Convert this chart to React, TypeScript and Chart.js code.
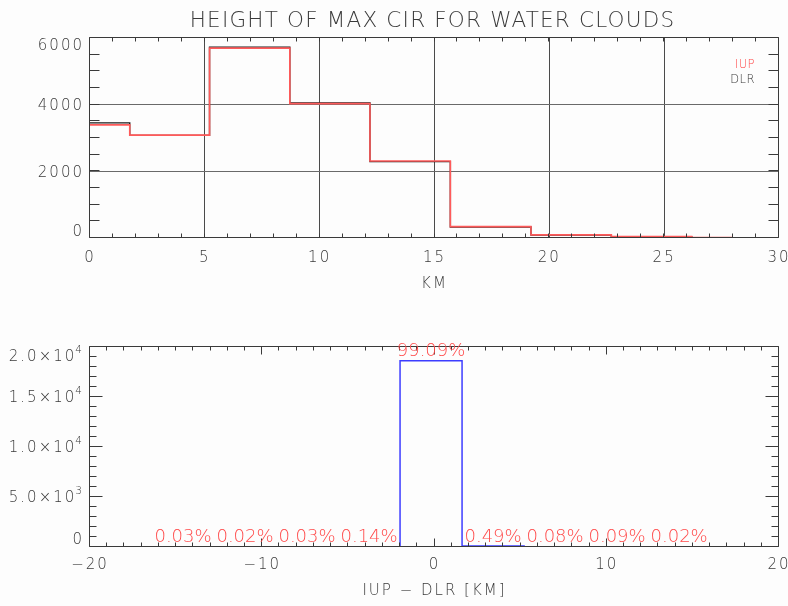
import React, { useEffect, useRef } from "react";
import Chart from "chart.js/auto";

// ---- data ----------------------------------------------------------------

// Height of the maximum CIR, counts per 3.5 km bin (plotted at bin centres)
const heightBinCentersKm = [0, 3.46, 6.95, 10.45, 13.93, 17.45, 20.95, 24.45, 27.95];
const iupCounts = [3395, 3085, 5695, 4030, 2310, 340, 95, 40, 15];
const dlrCounts = [3455, 3080, 5725, 4050, 2290, 330, 85, 40, 0];

const heightXTicks = [0, 5, 10, 15, 20, 25, 30];
const heightYTicks = [0, 2000, 4000, 6000];
const heightYTickLabels = ["0", "2000", "4000", "6000"];

// IUP - DLR height differences, share of all cases per bin
const diffBinCentersKm = [-14.6, -11.0, -7.4, -3.8, -0.2, 3.4, 7.0, 10.6, 14.2, 17.8];
const diffPercents = [0.03, 0.02, 0.03, 0.14, 99.09, 0.49, 0.08, 0.09, 0.02, 0.0];
const diffTotalCount = 18800;

const diffXTicks = [-20, -10, 0, 10, 20];
const diffYTicks = [0, 5000, 10000, 15000, 20000];
const diffYTickLabels = ["0", "5.0×10^3", "1.0×10^4", "1.5×10^4", "2.0×10^4"];

// ---- styling -------------------------------------------------------------

const FAMILY = "'DejaVu Sans', 'Liberation Sans', sans-serif";
const WEIGHT = "200";
const INK = "#3a3a3a";
const IUP_RED = "#ff5a5a";
const LABEL_RED = "#ff4a4a";
const DLR_BLACK = "#1c1c1c";
const DIFF_BLUE = "#3d3dff";
const TICK_SIZE = 15;
const TICK_SPACING = 2;

type TickSpec = { minor: number; major: number; minorLen: number; majorLen: number };

const crisp = (v: number) => Math.round(v) + 0.5;

// Box around the plot area plus inward minor/major tick marks on all four sides
function framePlugin(id: string, xs: TickSpec, ys: TickSpec) {
  return {
    id,
    afterDatasetsDraw(chart: any) {
      const { ctx, chartArea: a, scales } = chart;
      const x = scales.x;
      const y = scales.y;
      ctx.save();
      ctx.letterSpacing = "0px";
      ctx.strokeStyle = INK;
      ctx.lineWidth = 1;
      const L = crisp(a.left) - 1;
      const R = crisp(a.right) - 1;
      const T = crisp(a.top) - 1;
      const B = crisp(a.bottom) - 1;
      ctx.beginPath();
      ctx.rect(L, T, R - L, B - T);
      const nx = Math.round((x.max - x.min) / xs.minor);
      for (let i = 0; i <= nx; i++) {
        const v = x.min + i * xs.minor;
        const r = v / xs.major;
        const len = Math.abs(r - Math.round(r)) < 1e-6 ? xs.majorLen : xs.minorLen;
        const px = crisp(x.getPixelForValue(v)) - 1;
        ctx.moveTo(px, B);
        ctx.lineTo(px, B - len);
        ctx.moveTo(px, T);
        ctx.lineTo(px, T + len);
      }
      const ny = Math.round((y.max - y.min) / ys.minor);
      for (let i = 0; i <= ny; i++) {
        const v = y.min + i * ys.minor;
        const r = v / ys.major;
        const len = Math.abs(r - Math.round(r)) < 1e-6 ? ys.majorLen : ys.minorLen;
        const py = crisp(y.getPixelForValue(v)) - 1;
        ctx.moveTo(L, py);
        ctx.lineTo(L + len, py);
        ctx.moveTo(R, py);
        ctx.lineTo(R - len, py);
      }
      ctx.stroke();
      ctx.restore();
    },
  };
}

// Letter spacing used by the axis tick labels and titles
const spacingPlugin = {
  id: "spacing",
  beforeDraw(chart: any) {
    chart.ctx.letterSpacing = `${TICK_SPACING}px`;
  },
};

// Left-axis labels, kept inside the plot's vertical extent; "a^b" is drawn with a superscript
function yLabelPlugin(id: string, values: number[], labels: string[], padTop: number, padBottom: number) {
  return {
    id,
    afterDraw(chart: any) {
      const { ctx, chartArea: a, scales } = chart;
      const y = scales.y;
      const right = a.left - 8;
      const cap = TICK_SIZE * 0.729;
      ctx.save();
      ctx.fillStyle = INK;
      ctx.textBaseline = "alphabetic";
      ctx.textAlign = "left";
      values.forEach((v, i) => {
        let cy = y.getPixelForValue(v);
        cy = Math.max(a.top + padTop, Math.min(a.bottom - padBottom, cy));
        const base = cy + cap / 2;
        const [main, exp] = labels[i].split("^");
        ctx.font = `${WEIGHT} 10.5px ${FAMILY}`;
        ctx.letterSpacing = "0px";
        const expW = exp ? ctx.measureText(exp).width + 1 : 0;
        ctx.font = `${WEIGHT} ${TICK_SIZE}px ${FAMILY}`;
        ctx.letterSpacing = `${TICK_SPACING}px`;
        const mainW = ctx.measureText(main).width - TICK_SPACING;
        const x0 = right - expW - mainW;
        ctx.fillText(main, x0, base);
        if (exp) {
          ctx.font = `${WEIGHT} 10.5px ${FAMILY}`;
          ctx.letterSpacing = "0px";
          ctx.fillText(exp, x0 + mainW + 1, base - 8.5);
        }
      });
      ctx.restore();
    },
  };
}

const titlePlugin = {
  id: "heightTitle",
  afterDraw(chart: any) {
    const { ctx, chartArea: a } = chart;
    ctx.save();
    ctx.font = `${WEIGHT} 21.5px ${FAMILY}`;
    ctx.letterSpacing = "1.2px";
    ctx.fillStyle = INK;
    ctx.textAlign = "center";
    ctx.textBaseline = "alphabetic";
    ctx.fillText("HEIGHT OF MAX CIR FOR WATER CLOUDS", (a.left + a.right) / 2 - 2, 27);
    ctx.restore();
  },
};

const legendPlugin = {
  id: "cornerLegend",
  afterDraw(chart: any) {
    const { ctx, chartArea: a } = chart;
    ctx.save();
    ctx.font = `${WEIGHT} 11.5px ${FAMILY}`;
    ctx.letterSpacing = "0.5px";
    ctx.textAlign = "right";
    ctx.textBaseline = "alphabetic";
    const colors = [LABEL_RED, INK];
    chart.data.datasets.forEach((ds: any, i: number) => {
      ctx.fillStyle = colors[i];
      ctx.fillText(ds.label, a.right - 24, a.top + 29.5 + i * 15.5);
    });
    ctx.restore();
  },
};

// Percentage written above every non-empty difference bin
const percentPlugin = {
  id: "percentLabels",
  afterDatasetsDraw(chart: any) {
    const { ctx, scales } = chart;
    ctx.save();
    ctx.font = `${WEIGHT} 18px ${FAMILY}`;
    ctx.letterSpacing = "0px";
    ctx.fillStyle = LABEL_RED;
    ctx.textAlign = "center";
    ctx.textBaseline = "alphabetic";
    diffPercents.forEach((p, i) => {
      if (p <= 0) return;
      const count = (p / 100) * diffTotalCount;
      const px = scales.x.getPixelForValue(diffBinCentersKm[i]);
      const py = scales.y.getPixelForValue(count);
      ctx.fillText(`${p.toFixed(2)}%`, px, py - 4.5);
    });
    ctx.restore();
  },
};

const tickFont = { family: FAMILY, size: TICK_SIZE, weight: WEIGHT as any };
const minusSign = (v: any) => String(v).replace("-", "\u2212");

// Fixed axis boxes so the plot area lands at the same place in both panels
const fixHeight = (h: number) => (s: any) => {
  s.height = h;
  s.paddingLeft = 0;
  s.paddingRight = 0;
};
const fixWidth = (w: number) => (s: any) => {
  s.width = w;
  s.paddingTop = 0;
  s.paddingBottom = 0;
};

function heightConfig(): any {
  return {
    type: "line",
    data: {
      datasets: [
        {
          label: "IUP",
          data: heightBinCentersKm.map((x, i) => ({ x, y: iupCounts[i] })),
          borderColor: IUP_RED,
          borderWidth: 1.6,
          stepped: "middle",
          pointRadius: 0,
          fill: false,
          order: 0,
        },
        {
          label: "DLR",
          data: heightBinCentersKm.map((x, i) => ({ x, y: dlrCounts[i] })),
          borderColor: DLR_BLACK,
          borderWidth: 1.4,
          stepped: "middle",
          pointRadius: 0,
          fill: false,
          order: 1,
        },
      ],
    },
    options: {
      animation: false,
      responsive: false,
      events: [],
      layout: { padding: { top: 38, right: 9, left: 0, bottom: 0 } },
      plugins: { legend: { display: false }, tooltip: { enabled: false }, title: { display: false } },
      scales: {
        x: {
          type: "linear",
          min: 0,
          max: 30,
          afterBuildTicks: (s: any) => {
            s.ticks = heightXTicks.map((value) => ({ value }));
          },
          afterFit: fixHeight(62),
          grid: {
            drawTicks: false,
            lineWidth: 1,
            color: (c: any) =>
              c.tick && (c.tick.value === 0 || c.tick.value === 30) ? "rgba(0,0,0,0)" : "#4a4a4a",
          },
          border: { display: false },
          ticks: { color: INK, font: tickFont, padding: 11, maxRotation: 0, autoSkip: false, callback: minusSign },
          title: { display: true, text: "KM", color: INK, font: tickFont, padding: { top: 0, bottom: 7 } },
        },
        y: {
          type: "linear",
          min: 0,
          max: 6000,
          afterBuildTicks: (s: any) => {
            s.ticks = heightYTicks.map((value) => ({ value }));
          },
          afterFit: fixWidth(90),
          grid: {
            drawTicks: false,
            lineWidth: 1,
            color: (c: any) =>
              c.tick && (c.tick.value === 0 || c.tick.value === 6000) ? "rgba(0,0,0,0)" : "#6a6a6a",
          },
          border: { display: false },
          ticks: { display: false },
        },
      },
    },
    plugins: [
      spacingPlugin,
      framePlugin("heightFrame", { minor: 1, major: 5, minorLen: 4, majorLen: 4 }, { minor: 500, major: 2000, minorLen: 10, majorLen: 10 }),
      yLabelPlugin("heightYLabels", heightYTicks, heightYTickLabels, 6.5, 7.5),
      legendPlugin,
      titlePlugin,
    ],
  };
}

function diffConfig(): any {
  return {
    type: "line",
    data: {
      datasets: [
        {
          label: "IUP - DLR",
          data: diffBinCentersKm.map((x, i) => ({ x, y: (diffPercents[i] / 100) * diffTotalCount })),
          borderColor: DIFF_BLUE,
          borderWidth: 1.5,
          stepped: "middle",
          pointRadius: 0,
          fill: false,
        },
      ],
    },
    options: {
      animation: false,
      responsive: false,
      events: [],
      layout: { padding: { top: 47, right: 9, left: 0, bottom: 0 } },
      plugins: { legend: { display: false }, tooltip: { enabled: false }, title: { display: false } },
      scales: {
        x: {
          type: "linear",
          min: -20,
          max: 20,
          afterBuildTicks: (s: any) => {
            s.ticks = diffXTicks.map((value) => ({ value }));
          },
          afterFit: fixHeight(59),
          grid: { display: false, drawTicks: false },
          border: { display: false },
          ticks: { color: INK, font: tickFont, padding: 9, maxRotation: 0, autoSkip: false, callback: minusSign },
          title: { display: true, text: "IUP \u2212 DLR [KM]", color: INK, font: tickFont, padding: { top: 0, bottom: 6 } },
        },
        y: {
          type: "linear",
          min: 0,
          max: 20000,
          afterBuildTicks: (s: any) => {
            s.ticks = diffYTicks.map((value) => ({ value }));
          },
          afterFit: fixWidth(90),
          grid: { display: false, drawTicks: false },
          border: { display: false },
          ticks: { display: false },
        },
      },
    },
    plugins: [
      spacingPlugin,
      framePlugin("diffFrame", { minor: 1, major: 10, minorLen: 4, majorLen: 8 }, { minor: 1000, major: 5000, minorLen: 7, majorLen: 13 }),
      yLabelPlugin("diffYLabels", diffYTicks, diffYTickLabels, 8.7, 8),
      percentPlugin,
    ],
  };
}

export default function App() {
  const topRef = useRef<HTMLCanvasElement | null>(null);
  const bottomRef = useRef<HTMLCanvasElement | null>(null);

  useEffect(() => {
    if (!topRef.current || !bottomRef.current) return;
    const top = new Chart(topRef.current, heightConfig());
    const bottom = new Chart(bottomRef.current, diffConfig());
    return () => {
      top.destroy();
      bottom.destroy();
    };
  }, []);

  return (
    <div style={{ position: "absolute", left: 0, top: 0, width: 788, height: 606, background: "#fdfdfd" }}>
      <canvas
        ref={topRef}
        width={788}
        height={300}
        style={{ position: "absolute", left: 0, top: 0, width: 788, height: 300 }}
      />
      <canvas
        ref={bottomRef}
        width={788}
        height={306}
        style={{ position: "absolute", left: 0, top: 300, width: 788, height: 306 }}
      />
    </div>
  );
}
